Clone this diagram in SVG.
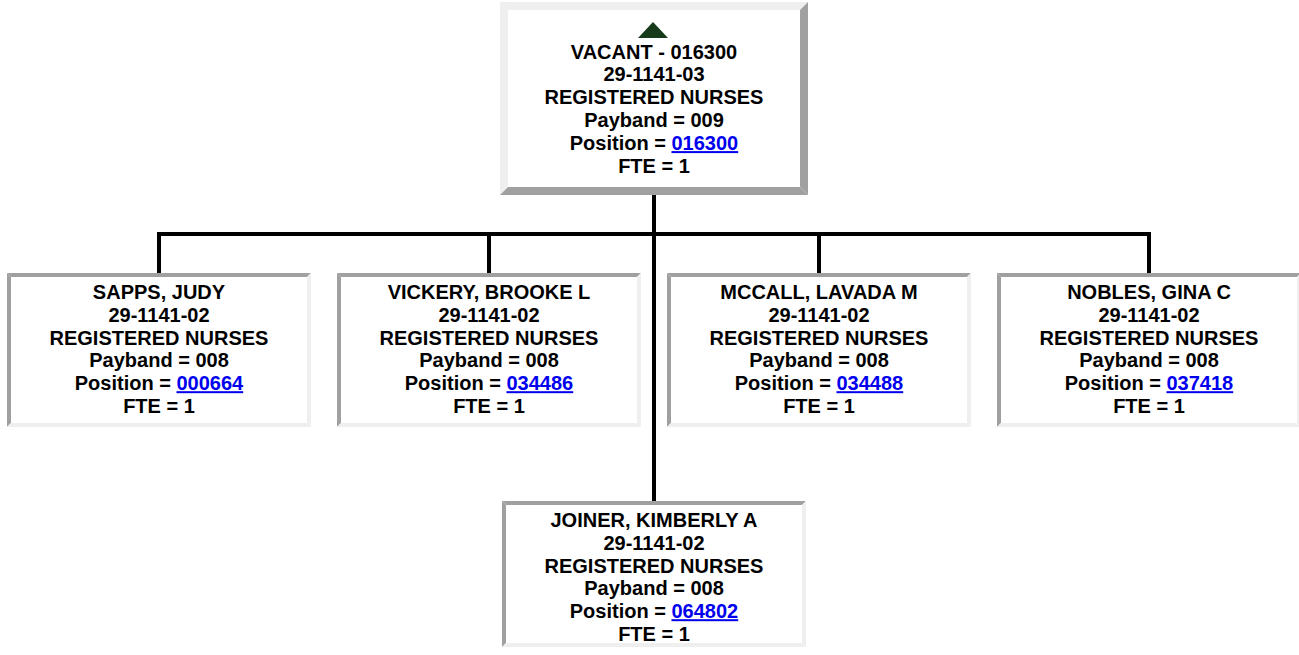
<svg xmlns="http://www.w3.org/2000/svg" xmlns:xlink="http://www.w3.org/1999/xlink" width="1299" height="655" viewBox="0 0 1299 655">
<style>
.t{font-family:"Liberation Sans",Arial,Helvetica,sans-serif;font-weight:bold;font-size:20px;text-anchor:middle;fill:#000}
.lnk{fill:#0000ee;text-decoration:underline}
.lt{fill:#efefef}
.dk{fill:#a0a0a0}
.bg{fill:#fff}
.conn{fill:none;stroke:#000;stroke-width:4;stroke-linejoin:miter}
</style>
<defs>
<g id="cframe">
<rect class="bg" x="0" y="0" width="304" height="154"/>
<polygon class="dk" points="0,0 304,0 300,4 4,4"/>
<polygon class="dk" points="0,0 4,4 4,150 0,154"/>
<polygon class="lt" points="304,0 304,154 300,150 300,4"/>
<polygon class="lt" points="0,154 304,154 300,150 4,150"/>
</g>
</defs>
<rect width="1299" height="655" fill="#fff"/>
<g id="connectors">
<path class="conn" d="M654,195 V501"/>
<path class="conn" d="M159,273 V234 H1149 V273"/>
<path class="conn" d="M489,234 V273"/>
<path class="conn" d="M819,234 V273"/>
</g>
<g id="node-vacant">
<rect class="bg" x="500" y="2" width="308" height="193"/>
<polygon class="lt" points="500,2 808,2 800,10 508,10"/>
<polygon class="lt" points="500,2 508,10 508,187 500,195"/>
<polygon class="dk" points="808,2 808,195 800,187 800,10"/>
<polygon class="dk" points="500,195 808,195 800,187 508,187"/>
<polygon points="653,22 668,38 638,38" fill="#163a1a"/>
<text class="t" x="654" y="58.5">VACANT - 016300</text>
<text class="t" x="654" y="81.4">29-1141-03</text>
<text class="t" x="654" y="104.3">REGISTERED NURSES</text>
<text class="t" x="654" y="127.2">Payband = 009</text>
<text class="t" x="654" y="150.1">Position = <tspan class="lnk">016300</tspan></text>
<text class="t" x="654" y="173">FTE = 1</text>
</g>
<g id="node-sapps">
<use xlink:href="#cframe" x="7" y="273"/>
<text class="t" x="159" y="299">SAPPS, JUDY</text>
<text class="t" x="159" y="321.8">29-1141-02</text>
<text class="t" x="159" y="344.6">REGISTERED NURSES</text>
<text class="t" x="159" y="367.4">Payband = 008</text>
<text class="t" x="159" y="390.2">Position = <tspan class="lnk">000664</tspan></text>
<text class="t" x="159" y="413">FTE = 1</text>
</g>
<g id="node-vickery">
<use xlink:href="#cframe" x="337" y="273"/>
<text class="t" x="489" y="299">VICKERY, BROOKE L</text>
<text class="t" x="489" y="321.8">29-1141-02</text>
<text class="t" x="489" y="344.6">REGISTERED NURSES</text>
<text class="t" x="489" y="367.4">Payband = 008</text>
<text class="t" x="489" y="390.2">Position = <tspan class="lnk">034486</tspan></text>
<text class="t" x="489" y="413">FTE = 1</text>
</g>
<g id="node-mccall">
<use xlink:href="#cframe" x="667" y="273"/>
<text class="t" x="819" y="299">MCCALL, LAVADA M</text>
<text class="t" x="819" y="321.8">29-1141-02</text>
<text class="t" x="819" y="344.6">REGISTERED NURSES</text>
<text class="t" x="819" y="367.4">Payband = 008</text>
<text class="t" x="819" y="390.2">Position = <tspan class="lnk">034488</tspan></text>
<text class="t" x="819" y="413">FTE = 1</text>
</g>
<g id="node-nobles">
<use xlink:href="#cframe" x="997" y="273"/>
<text class="t" x="1149" y="299">NOBLES, GINA C</text>
<text class="t" x="1149" y="321.8">29-1141-02</text>
<text class="t" x="1149" y="344.6">REGISTERED NURSES</text>
<text class="t" x="1149" y="367.4">Payband = 008</text>
<text class="t" x="1149" y="390.2">Position = <tspan class="lnk">037418</tspan></text>
<text class="t" x="1149" y="413">FTE = 1</text>
</g>
<g id="node-joiner">
<rect class="bg" x="502" y="501" width="304" height="146"/>
<polygon class="dk" points="502,501 806,501 802,505 506,505"/>
<polygon class="dk" points="502,501 506,505 506,643 502,647"/>
<polygon class="lt" points="806,501 806,647 802,643 802,505"/>
<polygon class="lt" points="502,647 806,647 802,643 506,643"/>
<text class="t" x="654" y="527">JOINER, KIMBERLY A</text>
<text class="t" x="654" y="549.8">29-1141-02</text>
<text class="t" x="654" y="572.6">REGISTERED NURSES</text>
<text class="t" x="654" y="595.4">Payband = 008</text>
<text class="t" x="654" y="618.2">Position = <tspan class="lnk">064802</tspan></text>
<text class="t" x="654" y="641">FTE = 1</text>
</g>
</svg>
